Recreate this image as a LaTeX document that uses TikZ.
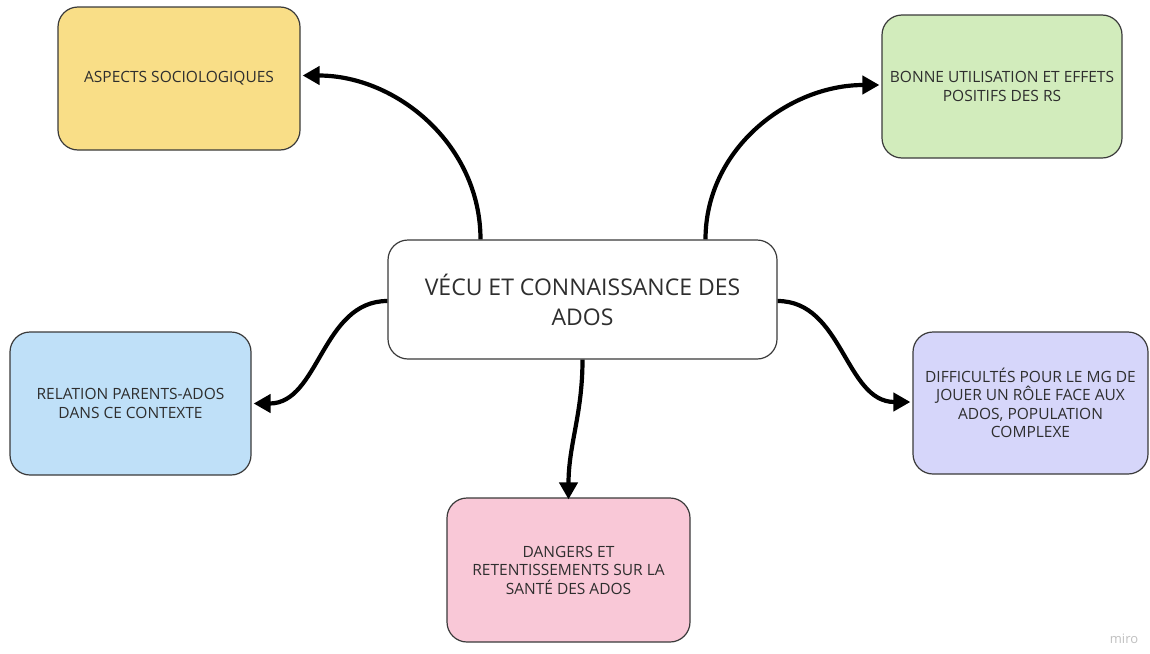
\documentclass[tikz,border=0pt]{standalone}
\usepackage{fontspec}
\setmainfont{Open Sans}
\usetikzlibrary{arrows.meta}
\definecolor{cyellow}{HTML}{F9DE87}
\definecolor{cgreen}{HTML}{D2ECBC}
\definecolor{cblue}{HTML}{BFE0F8}
\definecolor{cpurple}{HTML}{D6D6FA}
\definecolor{cpink}{HTML}{F9C8D7}
\definecolor{cborder}{HTML}{3A3A3A}
\definecolor{ctext}{HTML}{2E2E2E}
\tikzset{
  box/.style={draw=cborder, line width=1.2pt, rounded corners=20pt, align=center,
    text=ctext, font=\fontsize{15.5}{18.5}\selectfont, inner sep=0pt},
  link/.style={line width=4.2pt, black, -{Triangle[length=17pt,width=18pt]}},
}
\begin{document}
\begin{tikzpicture}[x=1pt,y=-1pt]
\useasboundingbox (0,0) rectangle (1150,653);
\node[box, fill=white, minimum width=389pt, minimum height=119pt, font=\fontsize{23}{30}\selectfont] (c) at (582.5,299.5) {VÉCU ET CONNAISSANCE DES\\ADOS};
\node[box, fill=cyellow, minimum width=242pt, minimum height=143pt] (ya) at (179,78.5) {ASPECTS SOCIOLOGIQUES};
\node[box, fill=cgreen, minimum width=240pt, minimum height=143pt] (gr) at (1002,86.5) {BONNE UTILISATION ET EFFETS\\POSITIFS DES RS};
\node[box, fill=cblue, minimum width=241pt, minimum height=143pt] (bl) at (130.5,403.5) {RELATION PARENTS-ADOS\\DANS CE CONTEXTE};
\node[box, fill=cpurple, minimum width=235pt, minimum height=142pt] (pu) at (1030.5,403) {DIFFICULTÉS POUR LE MG DE\\JOUER UN RÔLE FACE AUX\\ADOS, POPULATION\\COMPLEXE};
\node[box, fill=cpink, minimum width=243pt, minimum height=144pt] (pk) at (568.5,570) {DANGERS ET\\RETENTISSEMENTS SUR LA\\SANTÉ DES ADOS};
\node[text=black!25, font=\fontsize{13}{15}\selectfont, anchor=base] (miro) at (1124,643) {miro};
\draw[link] ([xshift=-102pt]c.north) to[out=90,in=0] ([yshift=3pt,xshift=2pt]ya.east);
\draw[link] ([xshift=123pt]c.north) to[out=90,in=180] ([yshift=1.5pt,xshift=-2pt]gr.west);
\draw[link] ([yshift=-1.5pt]c.west) to[out=180,in=0] ([xshift=2pt]bl.east);
\draw[link] ([yshift=-1.5pt]c.east) to[out=0,in=180] ([xshift=-2pt,yshift=1pt]pu.west);
\draw[link] (c.south) to[out=-90,in=90] ([yshift=-2pt]pk.north);
\end{tikzpicture}
\end{document}
